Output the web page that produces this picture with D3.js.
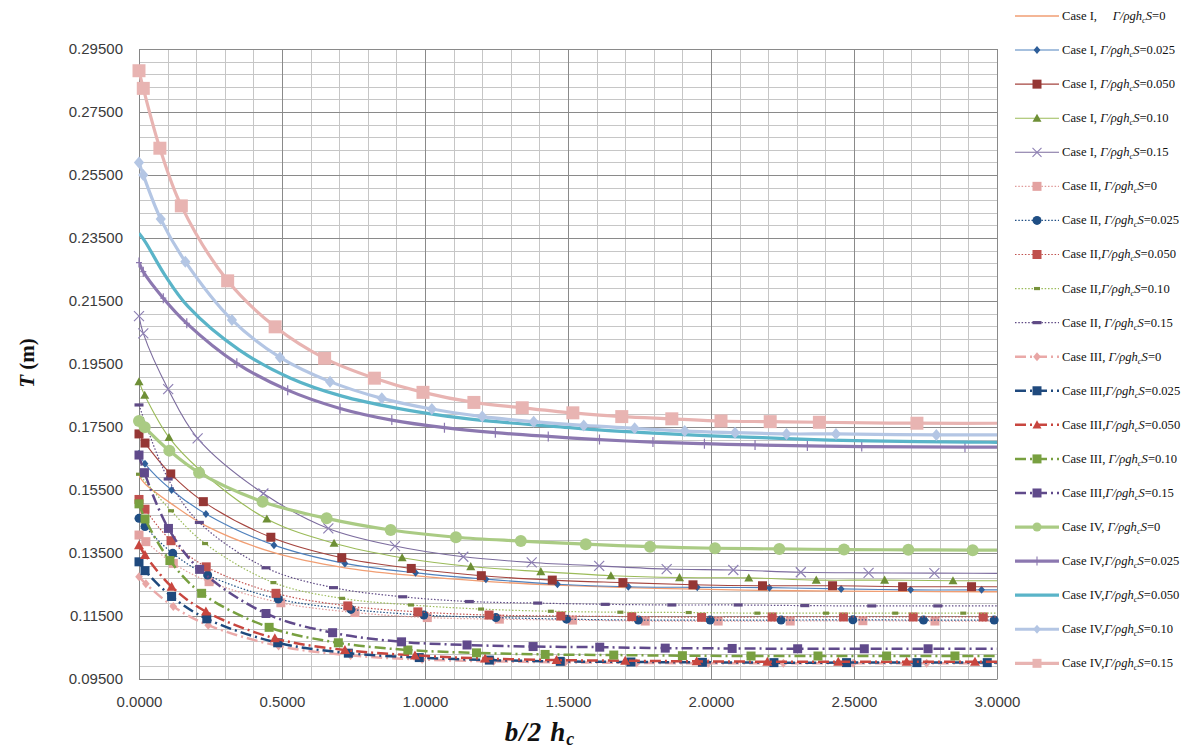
<!DOCTYPE html>
<html>
<head>
<meta charset="utf-8">
<script src="https://d3js.org/d3.v7.min.js"></script>
<style>
  body { margin: 0; background: #fff; }
  svg { display: block; }
</style>
</head>
<body>
<svg width="1200" height="749"></svg>
<script>
// categories and ticks
const cases = ['I', 'II', 'III', 'IV'];
const gammas = ['0', '0.025', '0.050', '0.10', '0.15'];
const legendSep = [
  ',     ', ', ', ', ', ', ', ', ',
  ', ', ', ', ',', ',', ', ',
  ', ', ',', ',', ', ', ',',
  ', ', ',', ',', ',', ','
];
const xTicks = [0, 0.5, 1, 1.5, 2, 2.5, 3];
const yTicks = [0.095, 0.115, 0.135, 0.155, 0.175, 0.195, 0.215, 0.235, 0.255, 0.275, 0.295];

// Case I
const c1g0x = [0, 0.021, 0.114, 0.234, 0.472, 0.72, 0.962, 1.209, 1.458, 1.706, 1.952, 2.204, 2.456, 2.698, 2.946, 3.1];
const c1g0y = [0.1595, 0.157, 0.1506, 0.1436, 0.1351, 0.1303, 0.1278, 0.126, 0.1248, 0.124, 0.1235, 0.1231, 0.1229, 0.1228, 0.1227, 0.1227];
const c1g25x = [0, 0.021, 0.114, 0.234, 0.472, 0.72, 0.967, 1.213, 1.463, 1.711, 1.952, 2.204, 2.455, 2.698, 2.946, 3.1];
const c1g25y = [0.1665, 0.1633, 0.155, 0.1474, 0.1375, 0.1317, 0.1287, 0.1267, 0.1251, 0.1243, 0.1241, 0.124, 0.1236, 0.1233, 0.1233, 0.1233];
const c1g50x = [0, 0.021, 0.111, 0.225, 0.461, 0.709, 0.952, 1.197, 1.445, 1.692, 1.937, 2.18, 2.425, 2.67, 2.911, 3.1];
const c1g50y = [0.1728, 0.1699, 0.1601, 0.1513, 0.14, 0.1335, 0.1301, 0.1278, 0.1264, 0.1256, 0.1249, 0.1246, 0.1246, 0.1243, 0.1243, 0.1243];
const c1g10x = [0, 0.02, 0.105, 0.215, 0.447, 0.682, 0.92, 1.16, 1.405, 1.65, 1.89, 2.132, 2.368, 2.607, 2.846, 3.1];
const c1g10y = [0.1894, 0.1851, 0.1717, 0.1612, 0.1458, 0.1381, 0.1335, 0.1307, 0.1291, 0.1278, 0.1272, 0.1271, 0.1264, 0.1264, 0.1262, 0.1262];
const c1g15x = [0, 0.015, 0.102, 0.205, 0.435, 0.662, 0.895, 1.134, 1.373, 1.609, 1.845, 2.078, 2.314, 2.551, 2.781, 3.1];
const c1g15y = [0.2102, 0.2047, 0.187, 0.1714, 0.1539, 0.1428, 0.1372, 0.1338, 0.132, 0.1309, 0.1299, 0.1296, 0.1289, 0.1287, 0.1286, 0.1285];

// Case II
const c2g0x = [0, 0.024, 0.12, 0.245, 0.496, 0.755, 1.008, 1.26, 1.516, 1.77, 2.025, 2.277, 2.531, 2.783, 3.1];
const c2g0y = [0.1407, 0.1386, 0.1317, 0.1259, 0.1192, 0.1161, 0.1145, 0.114, 0.1137, 0.1134, 0.1134, 0.1134, 0.1135, 0.1134, 0.1134];
const c2g25x = [0, 0.021, 0.118, 0.24, 0.487, 0.741, 0.996, 1.248, 1.495, 1.746, 1.997, 2.245, 2.496, 2.743, 2.99, 3.1];
const c2g25y = [0.146, 0.1434, 0.1349, 0.128, 0.1204, 0.1171, 0.1153, 0.1145, 0.114, 0.1137, 0.1137, 0.1137, 0.1138, 0.1137, 0.1137, 0.1137];
const c2g50x = [0, 0.021, 0.112, 0.235, 0.479, 0.73, 0.975, 1.224, 1.475, 1.723, 1.967, 2.214, 2.463, 2.707, 2.952, 3.1];
const c2g50y = [0.152, 0.1489, 0.1389, 0.1306, 0.1222, 0.1182, 0.1163, 0.1153, 0.115, 0.1148, 0.1146, 0.1147, 0.1147, 0.1147, 0.1147, 0.1147];
const c2g10x = [0, 0.112, 0.231, 0.47, 0.71, 0.951, 1.196, 1.44, 1.683, 1.922, 2.162, 2.402, 2.644, 2.882, 3.1];
const c2g10y = [0.16, 0.1484, 0.138, 0.1256, 0.1206, 0.1185, 0.1172, 0.1165, 0.1162, 0.1161, 0.1159, 0.1159, 0.1159, 0.1159, 0.1159];
const c2g15x = [0, 0.102, 0.211, 0.444, 0.68, 0.922, 1.155, 1.394, 1.63, 1.863, 2.095, 2.328, 2.562, 2.793, 3.1];
const c2g15y = [0.182, 0.1585, 0.1447, 0.1303, 0.124, 0.1211, 0.1196, 0.1191, 0.1187, 0.1185, 0.1185, 0.1183, 0.1182, 0.1182, 0.1182];

// Case III
const c3g0x = [0, 0.024, 0.12, 0.242, 0.488, 0.74, 0.99, 1.24, 1.49, 1.74, 1.99, 2.253, 2.497, 2.754, 3.1];
const c3g0y = [0.1275, 0.1252, 0.118, 0.1121, 0.1055, 0.1025, 0.1012, 0.1006, 0.1003, 0.1001, 0.1, 0.1, 0.1, 0.1, 0.1];
const c3g25x = [0, 0.021, 0.114, 0.237, 0.485, 0.732, 0.98, 1.225, 1.473, 1.72, 1.97, 2.22, 2.474, 2.72, 2.966, 3.1];
const c3g25y = [0.1322, 0.1294, 0.1212, 0.1141, 0.1065, 0.1032, 0.1018, 0.101, 0.1006, 0.1004, 0.1003, 0.1002, 0.1002, 0.1002, 0.1002, 0.1002];
const c3g50x = [0, 0.021, 0.114, 0.234, 0.475, 0.72, 0.965, 1.21, 1.46, 1.7, 1.95, 2.197, 2.445, 2.684, 2.923, 3.1];
const c3g50y = [0.1375, 0.1344, 0.1243, 0.1164, 0.1079, 0.1042, 0.1025, 0.1015, 0.101, 0.1008, 0.1006, 0.1005, 0.1005, 0.1005, 0.1005, 0.1005];
const c3g10x = [0, 0.021, 0.108, 0.219, 0.455, 0.697, 0.94, 1.18, 1.42, 1.66, 1.9, 2.14, 2.374, 2.614, 2.853, 3.1];
const c3g10y = [0.1506, 0.1458, 0.1326, 0.1222, 0.1114, 0.1065, 0.1042, 0.1033, 0.1028, 0.1026, 0.1024, 0.1023, 0.1023, 0.1023, 0.1023, 0.1023];
const c3g15x = [0, 0.019, 0.103, 0.212, 0.444, 0.677, 0.918, 1.147, 1.378, 1.611, 1.84, 2.074, 2.303, 2.536, 2.759, 3.1];
const c3g15y = [0.1661, 0.1605, 0.1428, 0.1298, 0.1158, 0.1097, 0.1068, 0.1058, 0.1053, 0.1051, 0.1048, 0.1047, 0.1046, 0.1046, 0.1046, 0.1046];

// Case IV
const c4g0x = [0, 0.02, 0.106, 0.21, 0.432, 0.656, 0.88, 1.108, 1.335, 1.562, 1.787, 2.014, 2.239, 2.465, 2.69, 2.915, 3.1];
const c4g0y = [0.1769, 0.1749, 0.1675, 0.1605, 0.1513, 0.146, 0.1423, 0.14, 0.1388, 0.1378, 0.137, 0.1365, 0.1363, 0.1361, 0.136, 0.1359, 0.1359];
const c4g25x = [0, 0.015, 0.085, 0.167, 0.342, 0.52, 0.703, 0.884, 1.068, 1.246, 1.431, 1.61, 1.797, 1.977, 2.154, 2.337, 2.527, 2.888, 3.1];
const c4g25y = [0.2272, 0.2243, 0.2159, 0.2079, 0.1952, 0.1867, 0.1809, 0.1772, 0.1748, 0.1732, 0.172, 0.171, 0.1702, 0.1697, 0.1693, 0.169, 0.1688, 0.1686, 0.1686];
const c4g50x = [0, 0.022, 0.09, 0.172, 0.35, 0.53, 0.71, 0.9, 1.08, 1.26, 1.45, 1.63, 1.82, 2.0, 2.18, 2.36, 2.55, 2.9, 3.1];
const c4g50y = [0.2365, 0.2338, 0.2233, 0.2132, 0.1995, 0.1905, 0.1848, 0.181, 0.1784, 0.1766, 0.1752, 0.1739, 0.173, 0.1722, 0.1716, 0.171, 0.1706, 0.1702, 0.1701];
const c4g10x = [0, 0.015, 0.076, 0.162, 0.325, 0.493, 0.668, 0.849, 1.024, 1.2, 1.38, 1.555, 1.733, 1.908, 2.084, 2.264, 2.437, 2.788, 3.1];
const c4g10y = [0.259, 0.255, 0.241, 0.2275, 0.209, 0.1971, 0.1894, 0.1841, 0.1807, 0.1783, 0.1767, 0.1755, 0.1746, 0.1737, 0.1732, 0.1728, 0.1728, 0.1725, 0.1725];
const c4g15x = [0, 0.015, 0.073, 0.148, 0.31, 0.476, 0.649, 0.823, 0.993, 1.171, 1.34, 1.517, 1.688, 1.863, 2.035, 2.207, 2.379, 2.72, 3.1];
const c4g15y = [0.2881, 0.2825, 0.2635, 0.2452, 0.2214, 0.2068, 0.1968, 0.1905, 0.186, 0.1828, 0.1811, 0.1795, 0.1783, 0.1776, 0.1769, 0.1767, 0.1765, 0.1762, 0.1762];

const seriesXY = [
  [c1g0x, c1g0y], [c1g25x, c1g25y], [c1g50x, c1g50y], [c1g10x, c1g10y], [c1g15x, c1g15y],
  [c2g0x, c2g0y], [c2g25x, c2g25y], [c2g50x, c2g50y], [c2g10x, c2g10y], [c2g15x, c2g15y],
  [c3g0x, c3g0y], [c3g25x, c3g25y], [c3g50x, c3g50y], [c3g10x, c3g10y], [c3g15x, c3g15y],
  [c4g0x, c4g0y], [c4g25x, c4g25y], [c4g50x, c4g50y], [c4g10x, c4g10y], [c4g15x, c4g15y]
];

// line + marker look for each series (same order)
const dotted = '1.5,1.8';
const dashDot = '11,4,2,4';
const looks = [
  { c: '#f19e73', w: 1.3, dash: null, m: null },
  { c: '#4f81bd', w: 1.1, dash: null, m: 'diamond', mc: '#2e5e99', ms: 8 },
  { c: '#a5453f', w: 1.1, dash: null, m: 'square', mc: '#953735', ms: 9 },
  { c: '#9bbb59', w: 1.1, dash: null, m: 'triangle', mc: '#6e8f36', ms: 9 },
  { c: '#7c6c9e', w: 1.1, dash: null, m: 'x', mc: '#8e80b4', ms: 10 },
  { c: '#e09b9a', w: 1.2, dash: dotted, m: 'square', mc: '#e3a2a1', ms: 9 },
  { c: '#1f4e84', w: 1.2, dash: dotted, m: 'circle', mc: '#1f4e84', ms: 9 },
  { c: '#c0504d', w: 1.2, dash: dotted, m: 'square', mc: '#c0504d', ms: 9 },
  { c: '#9bbb59', w: 1.2, dash: dotted, m: 'dash', mc: '#77933c', ms: 6 },
  { c: '#5f4a85', w: 1.2, dash: dotted, m: 'dash', mc: '#5f4a85', ms: 9 },
  { c: '#eaa9a8', w: 2.5, dash: dashDot, m: 'diamond', mc: '#e8a6a5', ms: 9 },
  { c: '#1f497d', w: 2.5, dash: dashDot, m: 'square', mc: '#1f497d', ms: 9 },
  { c: '#c8463f', w: 2.5, dash: dashDot, m: 'triangle', mc: '#c8463f', ms: 10 },
  { c: '#78a040', w: 2.5, dash: dashDot, m: 'square', mc: '#78a040', ms: 9 },
  { c: '#604a8b', w: 2.5, dash: dashDot, m: 'square', mc: '#604a8b', ms: 9 },
  { c: '#aacb84', w: 3.2, dash: null, m: 'circle', mc: '#aacb84', ms: 12 },
  { c: '#8c78b0', w: 3.2, dash: null, m: 'plus', mc: '#8c78b0', ms: 10 },
  { c: '#5ab4c8', w: 3.2, dash: null, m: null },
  { c: '#b4c6e4', w: 3.2, dash: null, m: 'diamond', mc: '#b4c6e4', ms: 12 },
  { c: '#e8b4b2', w: 3.2, dash: null, m: 'square', mc: '#e8b4b2', ms: 13 }
];

const svg = d3.select('svg');
svg.append('rect').attr('width', 1200).attr('height', 749).attr('fill', '#fff');

const x = d3.scaleLinear().domain([0, 3]).range([139, 997]);
const y = d3.scaleLinear().domain([0.095, 0.295]).range([679, 49]);

// grid: minor lines every 0.1 / 0.004, major every 0.5 / 0.02
const gridG = svg.append('g').attr('shape-rendering', 'crispEdges');
const vLines = d3.range(0, 31).map(i => ({ v: i / 10, major: i % 5 === 0 }));
const hLines = d3.range(0, 51).map(i => ({ v: 0.095 + i * 0.004, major: i % 5 === 0 }));
const px = v => Math.round(v) + 0.5;

[false, true].forEach(major => {
  gridG.selectAll(null)
    .data(vLines.filter(d => d.major === major))
    .enter().append('line')
      .attr('x1', d => px(x(d.v))).attr('x2', d => px(x(d.v)))
      .attr('y1', y(0.295)).attr('y2', y(0.095))
      .attr('stroke', major ? '#8a8a8a' : '#c6c6c6');
  gridG.selectAll(null)
    .data(hLines.filter(d => d.major === major))
    .enter().append('line')
      .attr('y1', d => px(y(d.v))).attr('y2', d => px(y(d.v)))
      .attr('x1', x(0)).attr('x2', x(3))
      .attr('stroke', major ? '#8a8a8a' : '#c6c6c6');
});

// axes
const axisFont = 'Liberation Sans, Arial, sans-serif';
const yAxis = svg.append('g')
  .attr('transform', `translate(${x(0)},0)`)
  .call(d3.axisLeft(y).tickValues(yTicks).tickFormat(d3.format('.5f')).tickSize(0).tickPadding(16));
const xAxis = svg.append('g')
  .attr('transform', `translate(0,${y(0.095)})`)
  .call(d3.axisBottom(x).tickValues(xTicks).tickFormat(d3.format('.4f')).tickSize(0).tickPadding(17));
[yAxis, xAxis].forEach(a => {
  a.select('.domain').attr('stroke', '#868686');
  a.selectAll('text').attr('font-family', axisFont).attr('font-size', 15).attr('fill', '#3a3a3a');
});

// series
svg.append('clipPath').attr('id', 'plotClip')
  .append('rect').attr('x', x(0)).attr('y', y(0.295) - 5).attr('width', x(3) - x(0)).attr('height', y(0.095) - y(0.295) + 10);

const line = d3.line()
  .x(d => x(d[0]))
  .y(d => y(d[1]))
  .curve(d3.curveCatmullRom.alpha(0.5));

const markerPath = (type, s) => {
  const h = s / 2;
  switch (type) {
    case 'square': return `M${-h},${-h}h${s}v${s}h${-s}Z`;
    case 'diamond': return `M0,${-h}L${h * 0.85},0L0,${h}L${-h * 0.85},0Z`;
    case 'triangle': return `M0,${-h}L${h},${h * 0.8}L${-h},${h * 0.8}Z`;
    case 'circle': return d3.symbol(d3.symbolCircle, Math.PI * h * h)();
    case 'x': return `M${-h},${-h}L${h},${h}M${-h},${h}L${h},${-h}`;
    case 'plus': return `M0,${-h}V${h}M${-h * 0.6},0H${h * 0.6}`;
    case 'dash': return `M${-h},-1.6h${s}v3.2h${-s}Z`;
  }
  return '';
};
const strokeOnly = t => t === 'x' || t === 'plus';

const seriesG = svg.append('g');
seriesXY.forEach(([xs, ys], i) => {
  const look = looks[i];
  const pts = xs.map((v, k) => [v, ys[k]]);
  const g = seriesG.append('g');
  g.append('path')
    .datum(pts)
    .attr('clip-path', 'url(#plotClip)')
    .attr('d', line)
    .attr('fill', 'none')
    .attr('stroke', look.c)
    .attr('stroke-width', look.w)
    .attr('stroke-dasharray', look.dash);
  if (look.m) {
    g.selectAll('path.mk')
      .data(pts.filter(p => p[0] <= 3))
      .enter().append('path')
        .attr('class', 'mk')
        .attr('transform', d => `translate(${x(d[0])},${y(d[1])})`)
        .attr('d', markerPath(look.m, look.ms))
        .attr('fill', strokeOnly(look.m) ? 'none' : look.mc)
        .attr('stroke', strokeOnly(look.m) ? look.mc : 'none')
        .attr('stroke-width', 1.2);
  }
});

// legend
const legend = svg.append('g').attr('transform', 'translate(1015,16)');
const legendRows = [];
cases.forEach(c => gammas.forEach(gm => legendRows.push({ c, gm })));
legendRows.forEach((r, i) => {
  const look = looks[i];
  const row = legend.append('g').attr('transform', `translate(0,${i * 34.07})`);
  row.append('line')
    .attr('x1', 0).attr('x2', 44)
    .attr('stroke', look.c)
    .attr('stroke-width', look.w)
    .attr('stroke-dasharray', look.dash);
  if (look.m) {
    const s = Math.min(look.ms, 9);
    row.append('path')
      .attr('transform', 'translate(22,0)')
      .attr('d', markerPath(look.m, s))
      .attr('fill', strokeOnly(look.m) ? 'none' : look.mc)
      .attr('stroke', strokeOnly(look.m) ? look.mc : 'none')
      .attr('stroke-width', 1.1);
  }
  const t = row.append('text')
    .attr('x', 47).attr('y', 4)
    .attr('font-family', 'Liberation Serif, Times New Roman, serif')
    .attr('font-size', 12.6)
    .attr('fill', '#111')
    .attr('xml:space', 'preserve')
    .style('white-space', 'pre');
  t.append('tspan').text(`Case ${r.c}${legendSep[i]}`);
  t.append('tspan').attr('font-style', 'italic').text('Γ/ρgh');
  t.append('tspan').attr('font-style', 'italic').attr('font-size', 8.5).attr('dy', 3).text('c');
  t.append('tspan').attr('font-style', 'italic').attr('dy', -3).text('S');
  t.append('tspan').text(`=${r.gm}`);
});

// axis titles
const yTitle = svg.append('text')
  .attr('transform', 'translate(34,363) rotate(-90)')
  .attr('text-anchor', 'middle')
  .attr('font-family', 'Liberation Serif, Times New Roman, serif')
  .attr('font-weight', 'bold')
  .attr('font-size', 21)
  .attr('fill', '#111');
yTitle.append('tspan').attr('font-style', 'italic').text('T');
yTitle.append('tspan').text(' (m)');

const xTitle = svg.append('text')
  .attr('x', 540).attr('y', 741)
  .attr('text-anchor', 'middle')
  .attr('font-family', 'Liberation Serif, Times New Roman, serif')
  .attr('font-weight', 'bold')
  .attr('font-style', 'italic')
  .attr('font-size', 27)
  .attr('letter-spacing', 1)
  .attr('fill', '#111');
xTitle.append('tspan').text('b/2');
xTitle.append('tspan').attr('dx', 8).text('h');
xTitle.append('tspan').attr('font-size', 18).attr('dy', 4).text('c');
</script>
</body>
</html>
